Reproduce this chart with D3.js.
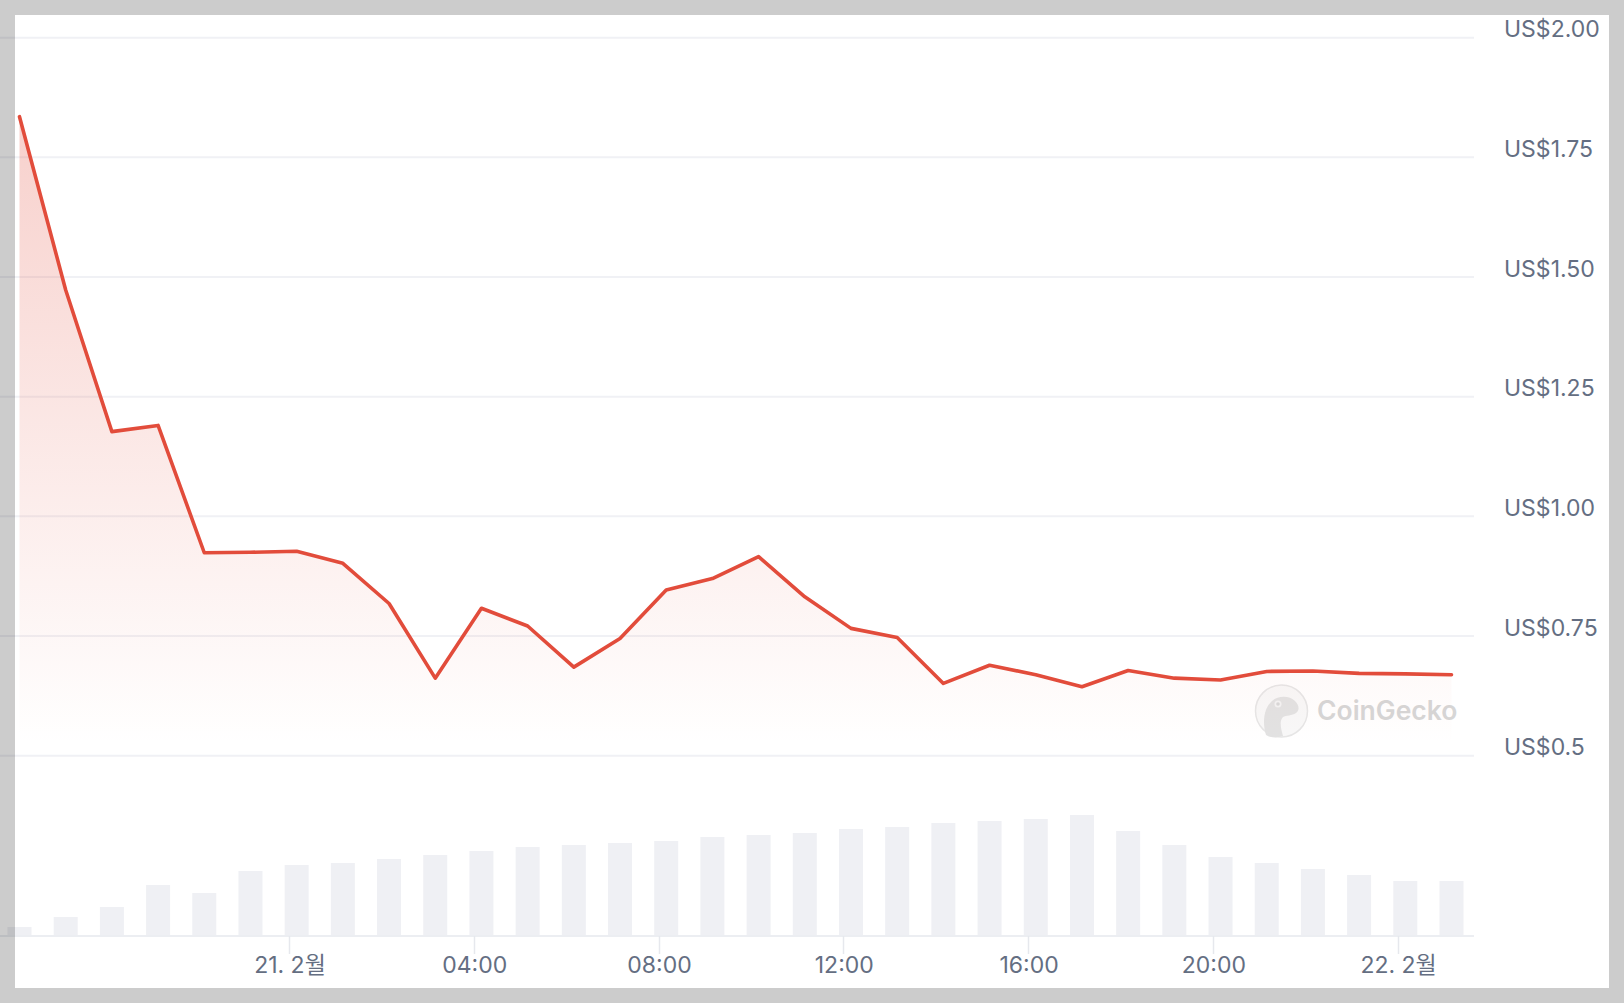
<!DOCTYPE html>
<html>
<head>
<meta charset="utf-8">
<script src="https://cdn.jsdelivr.net/npm/d3@7"></script>
<style>
html,body{margin:0;padding:0;background:#fff;}
svg{display:block;}
text{font-family:Inter,"Noto Sans CJK KR","Noto Sans",sans-serif;}
</style>
</head>
<body>
<svg id="chart" width="1624" height="1003"></svg>
<script>
// ---- data ----
const times = [
  "2025-02-20T18:10","2025-02-20T19:10","2025-02-20T20:10","2025-02-20T21:10",
  "2025-02-20T22:10","2025-02-20T23:10","2025-02-21T00:10","2025-02-21T01:10",
  "2025-02-21T02:10","2025-02-21T03:10","2025-02-21T04:10","2025-02-21T05:10",
  "2025-02-21T06:10","2025-02-21T07:10","2025-02-21T08:10","2025-02-21T09:10",
  "2025-02-21T10:10","2025-02-21T11:10","2025-02-21T12:10","2025-02-21T13:10",
  "2025-02-21T14:10","2025-02-21T15:10","2025-02-21T16:10","2025-02-21T17:10",
  "2025-02-21T18:10","2025-02-21T19:10","2025-02-21T20:10","2025-02-21T21:10",
  "2025-02-21T22:10","2025-02-21T23:10","2025-02-22T00:10","2025-02-22T01:10"
];
const prices = [
  1.835, 1.473, 1.177, 1.190, 0.924, 0.925, 0.927, 0.902,
  0.818, 0.662, 0.808, 0.771, 0.685, 0.745, 0.846, 0.870,
  0.916, 0.832, 0.766, 0.747, 0.651, 0.689, 0.669, 0.644,
  0.678, 0.662, 0.658, 0.676, 0.677, 0.672, 0.671, 0.669
];
const volumes = [
  9, 19, 29, 51, 43, 65, 71, 73,
  77, 81, 85, 89, 91, 93, 95, 99,
  101, 103, 107, 109, 113, 115, 117, 121,
  105, 91, 79, 73, 67, 61, 55, 55
];
const priceTicks = [0.5, 0.75, 1.0, 1.25, 1.5, 1.75, 2.0];
const priceTickLabels = ["US$0.5", "US$0.75", "US$1.00", "US$1.25", "US$1.50", "US$1.75", "US$2.00"];
const timeTicks = ["2025-02-21T00:00","2025-02-21T04:00","2025-02-21T08:00","2025-02-21T12:00","2025-02-21T16:00","2025-02-21T20:00","2025-02-22T00:00"];
const timeTickLabels = ["21. 2월","04:00","08:00","12:00","16:00","20:00","22. 2월"];

// ---- layout ----
const W = 1624, H = 1003;
const plotRight = 1474;
const xLeft = 19.5, xRight = 1451.5;
const axisY = 936;
const volTop = 815;
const areaBottom = 745;
const lineColor = "#e24c3b";
const labelColor = "#646e82";
const gridColor = "#f0f1f5";

const parse = d3.isoParse;
const data = times.map((t, i) => ({t: parse(t), p: prices[i], v: volumes[i]}));

const svg = d3.select("#chart");
svg.append("rect").attr("width", W).attr("height", H).attr("fill", "#fff");

const x = d3.scaleTime()
  .domain([data[0].t, data[data.length - 1].t])
  .range([xLeft, xRight]);
const y = d3.scaleLinear().domain([0.5, 2.0]).range([755.7, 37.7]);
const yv = d3.scaleLinear().domain([0, d3.max(volumes)]).range([axisY, volTop]);

// gradient
const defs = svg.append("defs");
const grad = defs.append("linearGradient").attr("id", "areaGrad")
  .attr("gradientUnits", "userSpaceOnUse")
  .attr("x1", 0).attr("x2", 0)
  .attr("y1", y(d3.max(prices))).attr("y2", areaBottom);
grad.append("stop").attr("offset", "0").attr("stop-color", lineColor).attr("stop-opacity", 0.26);
grad.append("stop").attr("offset", "1").attr("stop-color", lineColor).attr("stop-opacity", 0.0);

// gridlines
const gridG = svg.append("g");
gridG.selectAll("line").data(priceTicks).join("line")
  .attr("x1", 0).attr("x2", plotRight)
  .attr("y1", d => y(d)).attr("y2", d => y(d))
  .attr("stroke", gridColor).attr("stroke-width", 2);

// y labels
svg.append("g").selectAll("text").data(priceTicks).join("text")
  .attr("x", 1504).attr("y", d => y(d) - 0.5)
  .attr("fill", labelColor)
  .attr("font-size", 23)
  .text((d, i) => priceTickLabels[i]);

// volume bars
svg.append("g").selectAll("rect").data(data).join("rect")
  .attr("x", d => x(d.t) - 12)
  .attr("width", 24)
  .attr("y", d => yv(d.v))
  .attr("height", d => axisY - yv(d.v))
  .attr("fill", "#eff0f4");

// x axis line
svg.append("line").attr("x1", 0).attr("x2", plotRight)
  .attr("y1", axisY).attr("y2", axisY)
  .attr("stroke", "#eceef2").attr("stroke-width", 2);

// x ticks
const xt = svg.append("g");
const tickDates = timeTicks.map(parse);
xt.selectAll("line").data(tickDates).join("line")
  .attr("x1", d => Math.round(x(d)) + 0.5).attr("x2", d => Math.round(x(d)) + 0.5)
  .attr("y1", axisY).attr("y2", 954)
  .attr("stroke", "#e6e8ed").attr("stroke-width", 1.5);
xt.selectAll("text").data(tickDates).join("text")
  .attr("x", d => x(d) + 1).attr("y", 973)
  .attr("text-anchor", "middle")
  .attr("fill", labelColor)
  .attr("font-size", 23)
  .text((d, i) => timeTickLabels[i]);

// watermark
const wm = svg.append("g");
wm.append("circle").attr("cx", 1281.5).attr("cy", 711).attr("r", 26)
  .attr("fill", "#f3f3f3").attr("fill-opacity", 0.6)
  .attr("stroke", "#e6e6e6").attr("stroke-width", 1.5);
wm.append("path")
  .attr("d", "M1266,735 C1262,722 1264,708 1272,701 C1279,695 1290,696 1295,701 C1299,705 1300,710 1296,713 C1292,716 1286,715 1283,717 C1279,721 1281,729 1283,736 C1277,738 1271,738 1266,735 Z")
  .attr("fill", "#e2e2e2");
wm.append("circle").attr("cx", 1278).attr("cy", 704).attr("r", 3.5).attr("fill", "#f3f3f3");
wm.append("circle").attr("cx", 1278).attr("cy", 704).attr("r", 1.8).attr("fill", "#d8d8d8");
wm.append("text").attr("x", 1317).attr("y", 720)
  .attr("font-size", 26.5).attr("font-weight", 600)
  .attr("fill", "#d6d6d6")
  .text("CoinGecko");

// area + line
const area = d3.area().x(d => x(d.t)).y0(areaBottom).y1(d => y(d.p));
svg.append("path").datum(data).attr("d", area).attr("fill", "url(#areaGrad)");
const line = d3.line().x(d => x(d.t)).y(d => y(d.p));
svg.append("path").datum(data).attr("d", line)
  .attr("fill", "none").attr("stroke", lineColor).attr("stroke-width", 3.6)
  .attr("stroke-linejoin", "round").attr("stroke-linecap", "round");

// frame overlay
svg.append("path")
  .attr("d", `M0,0H${W}V${H}H0Z M15,15V988H1609V15Z`)
  .attr("fill-rule", "evenodd")
  .attr("fill", "#000").attr("fill-opacity", 0.2);
</script>
</body>
</html>
